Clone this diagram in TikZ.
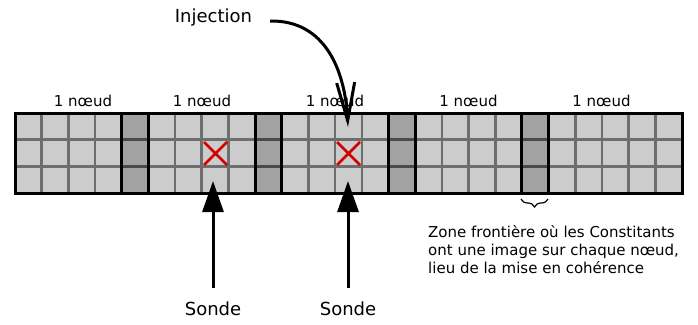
\documentclass[tikz,border=0pt]{standalone}
\usepackage{fontspec}
\setmainfont{DejaVu Sans}
\usetikzlibrary{arrows.meta,decorations.pathreplacing}
\definecolor{cellL}{HTML}{CCCCCC}
\definecolor{cellD}{HTML}{A2A2A2}
\definecolor{gridG}{HTML}{6E6E6E}
\definecolor{gridD}{HTML}{4A4A4A}
\definecolor{xred}{HTML}{D40000}
\begin{document}
\begin{tikzpicture}[x=1pt,y=-1pt,
  gridline/.style={gridG,line width=2.6pt},
  darkline/.style={gridD,line width=2.6pt},
  sepline/.style={black,line width=3pt},
  crossmark/.style={xred,line width=2.8pt},
  nodelabel/.style={anchor=base,inner sep=0pt,font=\fontsize{15}{18}\selectfont},
  biglabel/.style={anchor=base,inner sep=0pt,font=\fontsize{18}{21}\selectfont},
  probe/.style={line width=3pt,-{Triangle[length=31pt,width=21pt]}},
  inject/.style={line width=3pt,-{Straight Barb[length=38pt,width=18pt,line width=3pt]}}]
\useasboundingbox (0,0) rectangle (698,324);
\def\cw{26.68}
% cells
\fill[cellL] (15,113) rectangle (682,193);
\foreach \i in {4,9,14,19}
  \fill[cellD] ({15+\i*\cw},113) rectangle ({15+(\i+1)*\cw},193);
% grid
\foreach \i in {1,...,24}
  \draw[gridline] ({15+\i*\cw},113) -- ++(0,80);
\draw[gridline] (15,139.67) -- (682,139.67);
\draw[gridline] (15,166.33) -- (682,166.33);
\foreach \i in {4,9,14,19}{
  \draw[darkline] ({15+\i*\cw},139.67) -- ++(\cw,0);
  \draw[darkline] ({15+\i*\cw},166.33) -- ++(\cw,0);
}
\foreach \i in {4,5,9,10,14,15,19,20}
  \draw[sepline] ({15+\i*\cw},113) -- ++(0,80);
\draw[sepline] (15,113) rectangle (682,193);
% crosses
\draw[crossmark] (204,142) -- (227,165) (204,165) -- (227,142);
\draw[crossmark] (337,142) -- (360,165) (337,165) -- (360,142);
% node labels
\node[nodelabel] (n1) at (83,106) {1 nœud};
\node[nodelabel] (n2) at (202,106) {1 nœud};
\node[nodelabel] (n3) at (335,106) {1 nœud};
\node[nodelabel] (n4) at (468.5,106) {1 nœud};
\node[nodelabel] (n5) at (601.5,106) {1 nœud};
% injection
\node[biglabel] (inj) at (213.5,22) {Injection};
\coordinate (injs) at (270,21);
\coordinate (injt) at (348,127);
\draw[inject] (injs) .. controls (325,20) and (345,70) .. (injt);
% probes
\node[biglabel] (s1) at (213,315) {Sonde};
\node[biglabel] (s2) at (348,315) {Sonde};
\coordinate (s1b) at (213,288);
\coordinate (s1t) at (213,181);
\coordinate (s2b) at (348,288);
\coordinate (s2t) at (348,181);
\draw[probe] (s1b) -- (s1t);
\draw[probe] (s2b) -- (s2t);
% brace and note
\coordinate (ba) at (521,199);
\coordinate (bb) at (548,199);
\draw[line width=1.2pt,decorate,decoration={brace,amplitude=8pt,mirror}] (ba) -- (bb);
\node[anchor=north west,inner sep=0pt,align=left,font=\fontsize{15}{18}\selectfont] (note) at (428,225)
  {Zone frontière où les Constitants\\ont une image sur chaque nœud,\\lieu de la mise en cohérence};
\end{tikzpicture}
\end{document}
